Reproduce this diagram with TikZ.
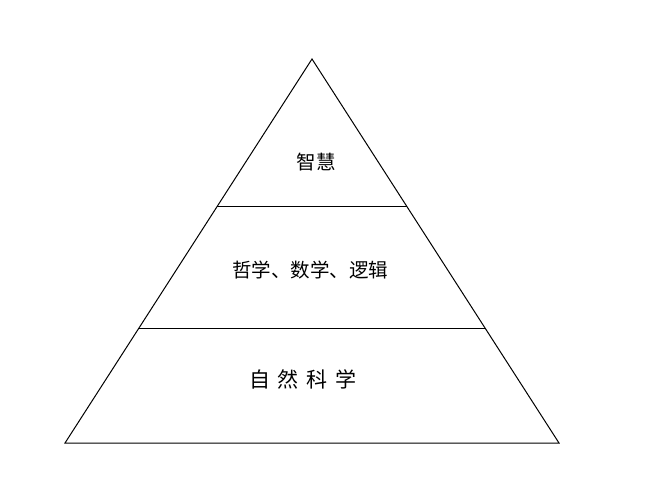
\documentclass[tikz,border=0pt]{standalone}
\usepackage{fontspec}
\newfontfamily\cjk{Noto Sans CJK SC}
\begin{document}
\begin{tikzpicture}[x=1pt,y=-1pt,
  edge/.style={draw=black,line width=1pt},
  lbl/.style={font=\cjk\fontsize{19.5}{22}\selectfont,inner sep=0pt}]
\useasboundingbox[fill=white] (0,0) rectangle (664,488);
\coordinate (apex) at (312,59);
\coordinate (bl) at (65,443);
\coordinate (br) at (559,443);
\coordinate (l1) at (217.4,206);
\coordinate (r1) at (406.6,206);
\coordinate (l2) at (139,328);
\coordinate (r2) at (485,328);
\draw[edge,line join=miter] (apex) -- (br) -- (bl) -- cycle;
\draw[edge] (l1) -- (r1);
\draw[edge] (l2) -- (r2);
\node[lbl] (wisdom) at (316,162) {智慧};
\node[lbl] (phil) at (310,270) {哲学、数学、逻辑};
\node[lbl,font=\cjk\fontsize{21}{24}\selectfont] (nat) at (303,379) {自\hspace{8pt}然\hspace{8pt}科\hspace{8pt}学};
\end{tikzpicture}
\end{document}
